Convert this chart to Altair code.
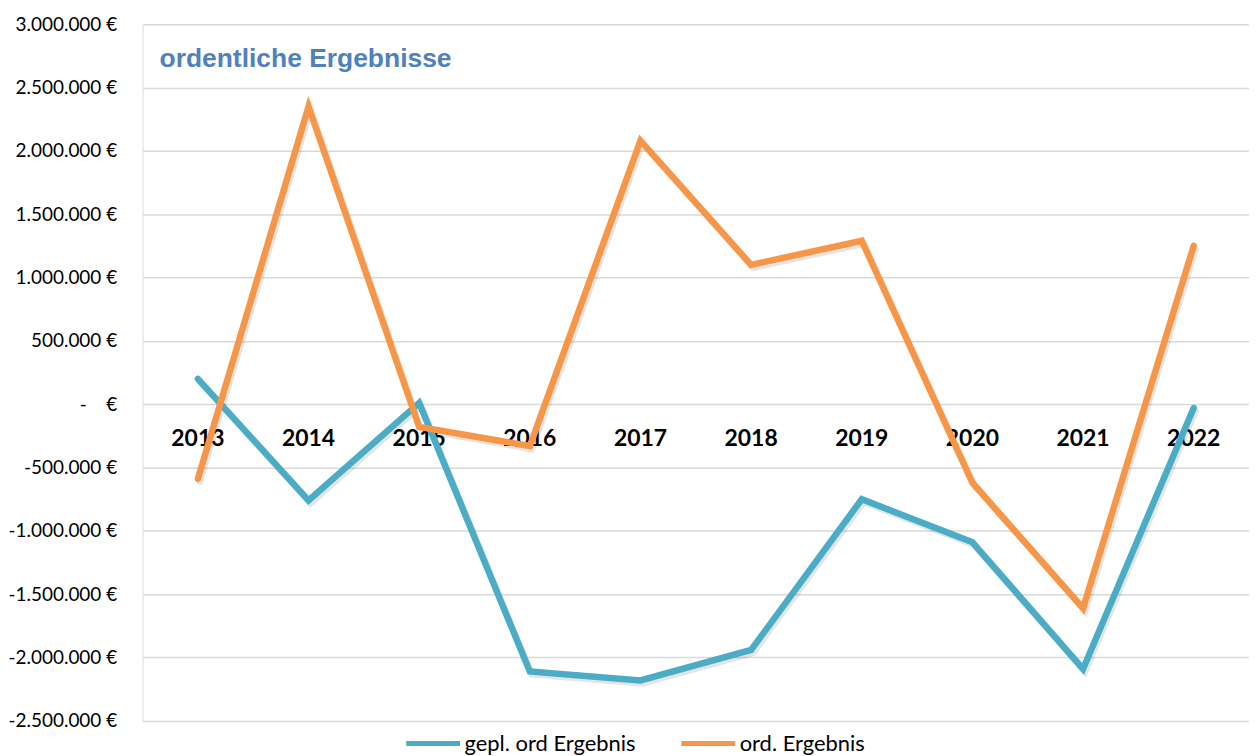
import altair as alt
import pandas as pd

years = ["2013", "2014", "2015", "2016", "2017", "2018", "2019", "2020", "2021", "2022"]
geplant = [200000, -760000, 10000, -2110000, -2180000, -1940000, -750000, -1090000, -2090000, -30000]
ordentlich = [-590000, 2350000, -180000, -330000, 2080000, 1100000, 1290000, -620000, -1610000, 1250000]
series_names = ["gepl. ord Ergebnis", "ord. Ergebnis"]
series_colors = ["#4BACC6", "#F79646"]
y_ticks = [3000000, 2500000, 2000000, 1500000, 1000000, 500000, 0,
           -500000, -1000000, -1500000, -2000000, -2500000]

rows = []
for i, y in enumerate(years):
    rows.append({"Jahr": y, "Serie": series_names[0], "Wert": geplant[i]})
    rows.append({"Jahr": y, "Serie": series_names[1], "Wert": ordentlich[i]})
df = pd.DataFrame(rows)
df_years = pd.DataFrame({"Jahr": years})

x_scale = alt.Scale(domain=years, type="point", padding=0.5)
y_scale = alt.Scale(domain=[-2500000, 3000000], nice=False, zero=False)

label_expr = ("datum.value == 0 ? '-\u00a0\u00a0\u00a0\u00a0€' : "
              "(datum.value < 0 ? '-' : '') + replace(format(abs(datum.value), ',.0f'), /,/g, '.') + ' €'")

year_text = alt.Chart(df_years).mark_text(
    font="Lato", fontSize=23, fontWeight="bold", color="black",
    baseline="middle", align="center", dy=35
).encode(
    x=alt.X("Jahr:N", scale=x_scale, axis=None),
    y=alt.datum(0, scale=y_scale,
                axis=alt.Axis(values=y_ticks, labelExpr=label_expr, title=None,
                              grid=True, gridColor="#D9D9D9", gridWidth=1.5,
                              domain=False, ticks=False, labelFont="Lato",
                              labelFontSize=19, labelColor="black", labelPadding=26)),
    text=alt.Text("Jahr:N"),
)

shadow = alt.Chart(df).mark_line(strokeWidth=6.5, strokeCap="round", color="#000000",
                                 opacity=0.10, xOffset=2, yOffset=3).encode(
    x=alt.X("Jahr:N", scale=x_scale, axis=None),
    y=alt.Y("Wert:Q", scale=y_scale, title=None),
    detail="Serie:N",
    order=alt.Order("Jahr:N"),
)

lines = alt.Chart(df).mark_line(strokeWidth=6.5, strokeCap="round", strokeJoin="miter").encode(
    x=alt.X("Jahr:N", scale=x_scale, axis=None),
    y=alt.Y("Wert:Q", scale=y_scale, title=None),
    color=alt.Color("Serie:N",
                    scale=alt.Scale(domain=series_names, range=series_colors),
                    legend=alt.Legend(title=None, orient="none", direction="horizontal",
                                      legendX=262, legendY=692,
                                      symbolType="stroke", symbolSize=2916,
                                      symbolStrokeWidth=5, labelOffset=2,
                                      columnPadding=35, labelFont="Lato",
                                      labelFontSize=22, labelLimit=400,
                                      labelColor="black")),
    order=alt.Order("Jahr:N"),
)

chart = alt.layer(year_text, shadow, lines).properties(
    width=1110, height=699,
    autosize=alt.AutoSizeParams(type="none"),
    padding={"left": 135, "top": 15, "right": 0, "bottom": 33},
    title=alt.TitleParams("ordentliche Ergebnisse", anchor="start", frame="group",
                          orient="top", offset=0, dx=17, dy=78, baseline="alphabetic",
                          font="Liberation Sans", fontSize=26.5, fontWeight="bold",
                          color="#4F81BD"),
).configure_view(stroke=None).configure(background="white")

chart.save("out.html", embed_options={"renderer": "svg", "actions": False})
